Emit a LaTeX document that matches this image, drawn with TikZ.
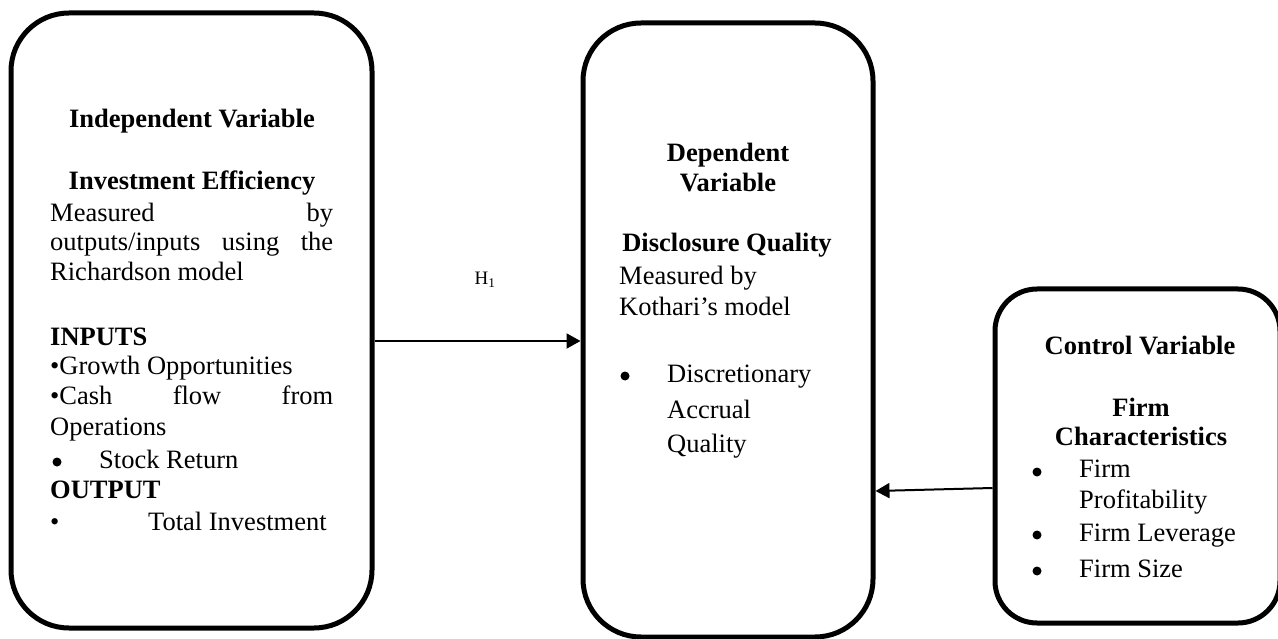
\documentclass[tikz,border=0pt]{standalone}
\usepackage{fontspec}
\setmainfont{Liberation Serif}
\usetikzlibrary{arrows.meta}
\newcommand\bodysize{\fontsize{26.5pt}{31pt}\selectfont}
\begin{document}
\begin{tikzpicture}[x=1pt,y=-1pt,
  box/.style={draw, line width=5pt, rounded corners=#1, inner sep=0pt},
  box/.default=58pt,
  tl/.style={anchor=base west, inner sep=0pt, font=\bodysize},
  tlb/.style={tl, font=\bodysize\bfseries},
  hcb/.style={anchor=base, inner sep=0pt, font=\bodysize\bfseries},
  dot/.style={circle, fill, inner sep=0pt, minimum size=9pt},
  arr/.style={line width=2pt, -{Triangle[length=14pt,width=15pt]}}
]
\useasboundingbox (0,0) rectangle (1278,639);

% Independent variable box
\node[box, minimum width=361pt, minimum height=615pt] (lbox) at (191.5,320.5) {};
\node[hcb] (lt1) at (192,128) {Independent Variable};
\node[hcb] (lt2) at (192,190) {Investment Efficiency};
\node[tl] (lt3) at (50,222) {\hbox to 283pt{Measured\hfill by}};
\node[tl] (lt4) at (50,251) {\hbox to 283pt{outputs/inputs\hfill using\hfill the}};
\node[tl] (lt5) at (50,280) {Richardson model};
\node[tlb] (lt6) at (50,345) {INPUTS};
\node[tl] (lt7) at (50,374) {•Growth Opportunities};
\node[tl] (lt8) at (50,404) {\hbox to 283pt{•Cash\hfill flow\hfill from}};
\node[tl] (lt9) at (50,435) {Operations};
\node[dot] (lt10b) at (57,462) {};
\node[tl] (lt10) at (99,468) {Stock Return};
\node[tlb] (lt11) at (50,498) {OUTPUT};
\node[tl] (lt12b) at (50,530) {•};
\node[tl] (lt12) at (148,530) {Total Investment};

% Dependent variable box
\node[box, minimum width=290pt, minimum height=614pt] (mbox) at (728,330) {};
\node[hcb] (mt1) at (728,162) {Dependent};
\node[hcb] (mt2) at (728,192) {Variable};
\node[hcb] (mt3) at (727,252) {Disclosure Quality};
\node[tl] (mt4) at (619,285) {Measured by};
\node[tl] (mt5) at (619,316) {Kothari’s model};
\node[dot] (mt6b) at (625,376) {};
\node[tl] (mt6) at (667,382) {Discretionary};
\node[tl] (mt7) at (667,418) {Accrual};
\node[tl] (mt8) at (667,452) {Quality};

% Control variable box
\node[box=42pt, minimum width=285pt, minimum height=334pt] (rbox) at (1137.5,456) {};
\node[hcb] (rt1) at (1140,355) {Control Variable};
\node[hcb] (rt2) at (1141,416) {Firm};
\node[hcb] (rt3) at (1141,445) {Characteristics};
\node[dot] (rt4b) at (1037,472) {};
\node[tl] (rt4) at (1079,477) {Firm};
\node[tl] (rt5) at (1079,508) {Profitability};
\node[dot] (rt6b) at (1037,535) {};
\node[tl] (rt6) at (1079,541) {Firm Leverage};
\node[dot] (rt7b) at (1037,571) {};
\node[tl] (rt7) at (1079,577) {Firm Size};

% Hypothesis label and connectors
\node[anchor=base, inner sep=0pt, font=\fontsize{19pt}{19pt}\selectfont] (h1) at (485,285) {H\textsubscript{1}};
\draw[arr] (lbox.east |- 0,341) -- (mbox.west |- 0,341);
\draw[arr] (rbox.west |- 0,488) -- (mbox.east |- 0,491);
\end{tikzpicture}
\end{document}
